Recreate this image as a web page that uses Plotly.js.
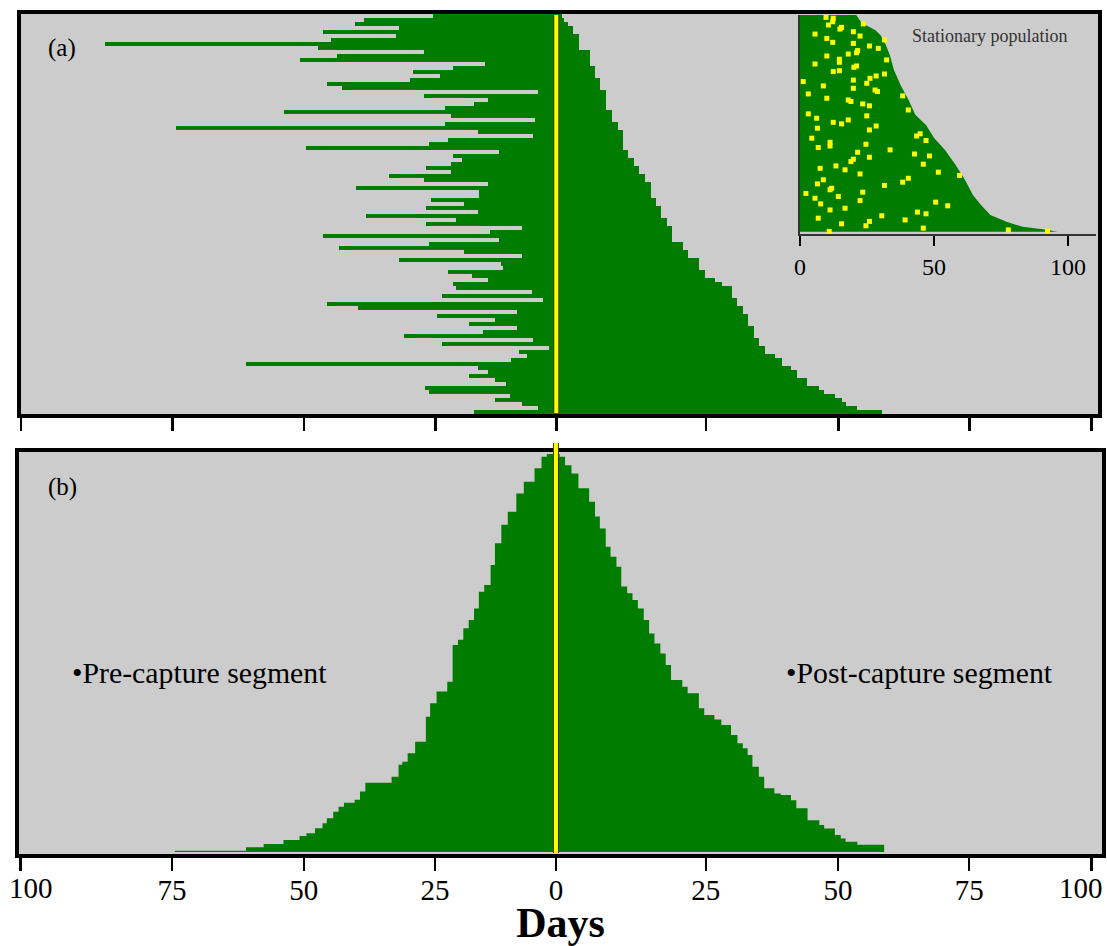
<!DOCTYPE html>
<html>
<head>
<meta charset="utf-8">
<script src="https://cdn.plot.ly/plotly-3.0.1.min.js"></script>
<style>
html,body{margin:0;padding:0;background:#ffffff;}
#chart{width:1107px;height:946px;}
</style>
</head>
<body>
<div id="chart"></div>
<script>
// ---------------- DATA ----------------
// Panel (a): one row per individual (top to bottom), days before / after capture
const preA = [23.0,36.0,37.6,29.3,43.6,30.0,42.0,84.4,44.6,24.8,
  41.0,47.8,13.4,19.3,26.7,21.7,27.3,42.8,40.0,3.4,
  24.7,12.7,15.3,20.7,50.8,19.7,4.0,20.7,71.1,14.7,
  4.4,20.3,23.7,46.8,10.7,19.3,17.7,19.7,24.3,19.7,
  31.3,24.7,12.7,37.5,14.4,14.4,23.5,17.3,24.3,14.7,
  35.6,18.7,24.3,6.4,12.4,43.6,10.7,23.7,40.6,17.3,
  6.4,29.4,10.4,10.0,20.3,15.7,12.7,19.3,18.7,4.6,
  21.3,2.4,42.8,37.0,7.4,22.3,11.4,16.4,7.4,13.7,
  28.5,4.4,21.3,1.4,7.0,5.5,8.4,57.9,14.7,12.7,
  16.4,11.4,9.4,24.5,23.7,8.7,11.4,6.4,3.5,15.3];
const postA = [1.1,1.5,2.2,3.2,3.2,4.3,4.3,4.3,4.3,6.3,
  6.3,6.3,6.3,7.3,7.3,7.3,8.2,8.2,8.2,9.3,
  9.3,9.3,9.3,9.3,10.4,10.4,10.4,11.5,11.5,12.5,
  12.5,12.5,12.5,12.5,13.4,13.4,14.5,14.5,15.5,15.5,
  16.6,16.6,17.7,17.7,17.7,17.7,18.6,18.6,19.6,19.6,
  19.6,20.7,20.7,21.6,21.6,21.6,21.6,23.6,23.6,24.6,
  24.6,26.6,26.6,26.6,27.7,27.7,29.6,30.9,32.8,32.8,
  32.8,33.7,33.7,34.8,34.8,35.8,35.8,35.8,36.9,36.9,
  36.9,37.8,37.8,38.9,38.9,40.8,42.1,42.1,43.9,44.9,
  44.9,46.9,46.9,49.0,50.1,52.0,53.3,54.2,56.2,60.9];

// Panel (b): sorted segments, rank (% of individuals, from top) where each step starts, and its length in days
const bPreRank = [0,0.7,3.6,7.0,9.9,14.5,17.8,22.4,27.9,32.9,34.6,38.8,41.7,43.8,46.7,48.0,57.2,59.7,62.6,66.0,
  72.3,75.2,77.3,78.1,81.1,82.6,84.8,86.9,87.6,88.6,89.9,91.5,92.8,94.0,95.3,96.0,97.0,98.0,98.8,99.7];
const bPreDays = [1.7,2.7,4.0,6.0,7.4,9.0,10.2,11.4,12.2,13.4,14.4,15.3,16.3,17.3,18.3,19.3,20.3,22.3,23.5,24.3,
  26.3,27.7,28.7,29.4,30.7,35.6,36.6,37.6,39.6,40.6,41.6,42.8,43.6,45.0,46.6,47.9,50.9,54.6,57.9,71.2];
const bPostRank = [0,0.7,2.8,4.9,8.6,12.0,15.7,18.7,23.3,25.8,28.3,33.3,35.0,36.7,38.8,41.7,45.1,47.6,50.1,53.0,
  56.8,58.5,60.1,63.9,65.6,66.7,68.1,70.6,72.7,73.9,75.6,78.6,81.1,84.0,85.3,85.7,87.0,89.0,92.0,93.2,
  94.1,95.7,96.6,97.4,98.2];
const bPostDays = [0.7,1.7,2.9,4.2,6.2,7.3,8.2,9.3,10.2,11.3,12.2,13.3,14.3,15.3,16.4,17.4,18.4,19.5,20.5,21.5,
  23.6,24.6,26.7,27.7,29.6,30.9,32.7,33.9,34.9,35.8,36.7,37.9,38.9,40.8,42.0,43.9,44.9,47.0,49.2,50.1,
  52.1,53.2,54.1,56.3,61.3];

// Inset: stationary population outline (rank from top, days) and sampled capture points
const insetRank = [0,3.7,6.9,9.2,13.8,18.4,25.3,32.3,39.2,46.0,50.7,56.7,62.2,69.1,76.0,83.0,87.6,92.2,95.4,97.7,99.0,100];
const insetDays = [21,23,28,30,32,33.5,35,37.5,40.5,43,47,50,54,58,61.5,64.5,67.5,71,77,83,92,96];
const dotDays = [9.7,12.4,12.2,10.6,14.9,15.5,23.6,5.6,19.9,22.4,
  10.0,12.2,19.9,25.9,29.2,21.5,21.1,18.0,14.7,14.7,
  10.0,5.6,32.3,20.1,21.1,12.4,14.7,31.5,28.4,26.1,
  1.2,19.9,24.9,8.7,19.9,28.0,28.9,3.1,10.0,18.0,
  19.0,23.4,25.9,38.3,40.4,3.1,6.2,24.9,12.4,15.5,
  18.0,6.5,25.9,28.4,4.4,11.2,11.2,6.8,24.6,43.5,
  44.8,47.0,33.6,21.5,19.0,19.9,25.9,42.7,48.3,46.0,
  7.5,13.4,16.8,22.4,8.7,6.5,11.8,11.2,31.5,38.3,
  40.4,51.6,59.5,2.2,5.6,7.7,14.3,23.4,22.4,11.2,
  16.8,30.5,25.9,24.6,15.5,6.8,39.2,43.8,47.0,50.6,
  55.1,46.0,10.9,77.7,92.3,31.5];
const dotRank = [1.1,1.5,3.1,4.6,6.5,5.7,4.1,8.8,7.7,9.7,
  10.8,12.6,13.1,14.3,15.4,16.4,17.4,18.0,20.4,21.8,
  18.9,22.6,20.7,24.1,23.5,26.1,25.7,27.2,28.1,29.2,
  30.7,30.0,31.5,32.7,33.8,34.6,35.3,36.4,38.4,39.2,
  39.9,41.0,41.9,37.3,43.8,45.6,47.6,46.5,49.5,50.2,
  48.4,52.2,53.0,51.2,56.8,58.7,60.4,61.1,59.6,55.8,
  54.8,57.9,62.2,63.3,67.6,66.5,65.6,64.1,65.0,68.8,
  70.7,69.6,71.4,73.3,76.0,77.9,79.9,80.6,78.6,77.1,
  75.3,72.5,74.0,82.3,84.5,87.1,83.7,81.7,85.6,89.9,
  89.1,92.6,95.2,97.2,96.3,93.7,94.5,90.9,91.7,86.3,
  88.0,98.3,99.8,99.1,99.6,11.5];

// Axis ticks (days before capture on the left, after on the right)
const tickVals = [-100,-71.7,-47.1,-22.6,0,28.0,52.7,77.2,100];
const tickText = ['','75','50','25','0','25','50','75',''];
const edgeLabel = '100';
const insetTickVals = [0,50,100];

// ---------------- STYLE / LAYOUT ----------------
const W = 1107, H = 946;
const px = v => v / W;
const py = v => 1 - v / H;
const GREEN = '#007c00';
const YELLOW = '#ffff00';
const BG = '#cccccc';
const SERIF = '"Liberation Serif", "Times New Roman", serif';

const rowsA = preA.map((_, i) => i);

const traces = [
  {type:'bar', orientation:'h', x: preA.map(v => -v), y: rowsA, width: 1,
   marker:{color:GREEN, line:{color:GREEN, width:0}}, xaxis:'x', yaxis:'y', hoverinfo:'skip'},
  {type:'bar', orientation:'h', x: postA, y: rowsA, width: 1,
   marker:{color:GREEN, line:{color:GREEN, width:0}}, xaxis:'x', yaxis:'y', hoverinfo:'skip'},
  {type:'scatter', mode:'lines',
   x: bPreDays.concat([bPreDays[bPreDays.length-1]]).map(v => -v),
   y: bPreRank.concat([100]),
   line:{shape:'vh', width:0, color:GREEN}, fill:'tozerox', fillcolor:GREEN,
   xaxis:'x2', yaxis:'y2', hoverinfo:'skip'},
  {type:'scatter', mode:'lines',
   x: bPostDays.concat([bPostDays[bPostDays.length-1]]),
   y: bPostRank.concat([100]),
   line:{shape:'vh', width:0, color:GREEN}, fill:'tozerox', fillcolor:GREEN,
   xaxis:'x2', yaxis:'y2', hoverinfo:'skip'},
  {type:'scatter', mode:'lines', x: insetDays, y: insetRank,
   line:{width:0, color:GREEN}, fill:'tozerox', fillcolor:GREEN,
   xaxis:'x3', yaxis:'y3', hoverinfo:'skip'},
  {type:'scatter', mode:'markers', x: dotDays, y: dotRank,
   marker:{symbol:'square', size:5, color:YELLOW, line:{width:0}},
   xaxis:'x3', yaxis:'y3', hoverinfo:'skip'}
];

const xMain = {
  range:[-100, 101.2], tickvals: tickVals, ticktext: tickText,
  ticks:'outside', ticklen:13, tickwidth:2.5, tickcolor:'#000',
  showline:true, linewidth:4, linecolor:'#000', mirror:true,
  showgrid:false, zeroline:false, fixedrange:true
};

const layout = {
  width: W, height: H,
  margin:{l:0, r:0, t:0, b:0},
  paper_bgcolor:'#ffffff', plot_bgcolor: BG,
  showlegend:false, barmode:'overlay', bargap:0,
  font:{family:SERIF, color:'#000'},
  xaxis: Object.assign({}, xMain, {domain:[px(21), px(1098)], anchor:'y', showticklabels:false}),
  yaxis: {domain:[py(414), py(14)], range:[99.5, -0.5], anchor:'x',
          showline:true, linewidth:4, linecolor:'#000', mirror:true,
          showticklabels:false, ticks:'', showgrid:false, zeroline:false, fixedrange:true},
  xaxis2: Object.assign({}, xMain, {domain:[px(19), px(1102)], range:[-100.3, 102.0], anchor:'y2',
          showticklabels:true, tickfont:{family:SERIF, size:29, color:'#000'}, ticklabelstandoff:-6,
          title:{text:'<b>Days</b>', font:{family:SERIF, size:42, color:'#000'}, standoff:11}}),
  yaxis2: {domain:[py(854), py(452)], range:[100.5, -0.5], anchor:'x2',
          showline:true, linewidth:4, linecolor:'#000', mirror:true,
          showticklabels:false, ticks:'', showgrid:false, zeroline:false, fixedrange:true},
  xaxis3: {domain:[px(800), px(1096)], range:[0, 110.4], anchor:'y3',
          tickvals: insetTickVals, ticks:'outside', ticklen:10, tickwidth:2.5, tickcolor:'#000',
          showline:true, linewidth:2, linecolor:'#333', mirror:false,
          tickfont:{family:SERIF, size:24, color:'#000'},
          showgrid:false, zeroline:false, fixedrange:true},
  yaxis3: {domain:[py(234), py(15)], range:[101, 0], anchor:'x3',
          showline:true, linewidth:2, linecolor:'#333', mirror:false,
          showticklabels:false, ticks:'', showgrid:false, zeroline:false, fixedrange:true},
  shapes: [
    {type:'line', xref:'x', yref:'paper', x0:0, x1:0, y0:py(413), y1:py(15), line:{color:'#3a3a00', width:6}},
    {type:'line', xref:'x', yref:'paper', x0:0, x1:0, y0:py(413), y1:py(15), line:{color:YELLOW, width:4}},
    {type:'line', xref:'x2', yref:'paper', x0:0, x1:0, y0:py(853), y1:py(443), line:{color:'#3a3a00', width:6}},
    {type:'line', xref:'x2', yref:'paper', x0:0, x1:0, y0:py(853), y1:py(443), line:{color:YELLOW, width:4}}
  ],
  annotations: [
    {text:'(a)', xref:'paper', yref:'paper', x:px(46), y:py(48), xanchor:'left', yanchor:'middle',
     showarrow:false, font:{family:SERIF, size:25, color:'#000'}},
    {text:'(b)', xref:'paper', yref:'paper', x:px(46), y:py(487), xanchor:'left', yanchor:'middle',
     showarrow:false, font:{family:SERIF, size:25, color:'#000'}},
    {text:'\u2022Pre-capture segment', xref:'paper', yref:'paper', x:px(70), y:py(672), xanchor:'left', yanchor:'middle',
     showarrow:false, font:{family:SERIF, size:29.8, color:'#000'}},
    {text:'\u2022Post-capture segment', xref:'paper', yref:'paper', x:px(784), y:py(672), xanchor:'left', yanchor:'middle',
     showarrow:false, font:{family:SERIF, size:29.8, color:'#000'}},
    {text:'Stationary population', xref:'paper', yref:'paper', x:px(910), y:py(36), xanchor:'left', yanchor:'middle',
     showarrow:false, font:{family:SERIF, size:18, color:'#333'}},
    {text:edgeLabel, xref:'paper', yref:'paper', x:px(31), y:py(888), xanchor:'center', yanchor:'middle',
     showarrow:false, font:{family:SERIF, size:29, color:'#000'}},
    {text:edgeLabel, xref:'paper', yref:'paper', x:px(1081), y:py(888), xanchor:'center', yanchor:'middle',
     showarrow:false, font:{family:SERIF, size:29, color:'#000'}}
  ]
};

Plotly.newPlot('chart', traces, layout, {displayModeBar:false, staticPlot:true});
</script>
</body>
</html>
